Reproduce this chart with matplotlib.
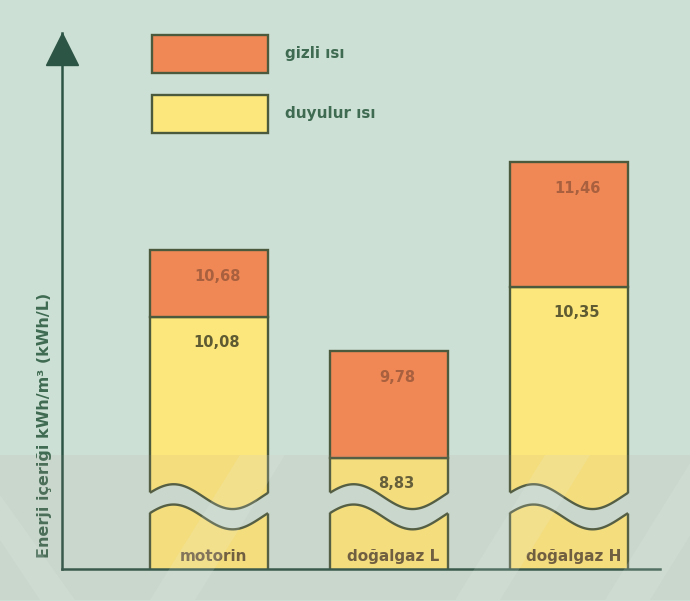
import matplotlib
matplotlib.use('Agg')
import matplotlib.pyplot as plt
import numpy as np
from matplotlib.patches import Polygon

# ---- data ----
categories = ['motorin', 'doğalgaz L', 'doğalgaz H']
duyulur = [10.08, 8.83, 10.35]          # duyulur ısı (lower value)
toplam = [10.68, 9.78, 11.46]           # gizli ısı dahil (upper value)
duyulur_labels = ['10,08', '8,83', '10,35']
toplam_labels = ['10,68', '9,78', '11,46']
legend_labels = ['gizli ısı', 'duyulur ısı']
ylabel = 'Enerji içeriği kWh/m³ (kWh/L)'

# ---- style ----
BG = '#cde0d5'
YEL = '#fce77c'
ORA = '#f08856'
EDGE = '#4b5a3c'
AXC = '#2d5546'
TXT_G = '#3f6b52'
TXT_Y = '#5e5a32'
TXT_O = '#a8603e'
TXT_C = '#6a5b3a'
plt.rcParams['font.family'] = ['DejaVu Sans']
plt.rcParams['font.weight'] = 'bold'

W, H = 690, 601
fig = plt.figure(figsize=(W / 100, H / 100), dpi=100, facecolor=BG)
ax = fig.add_axes([62 / W, 32 / H, 598 / W, 536 / H])
ax.set_facecolor(BG)
ax.set_xlim(-0.8167, 2.5056)
ax.set_ylim(7.848, 12.604)

x = np.arange(len(categories))
w = 0.656
lo_vals = np.array(duyulur)
hi_vals = np.array(toplam)

b_y = ax.bar(x, lo_vals, w, color=YEL, edgecolor=EDGE, linewidth=1.7, zorder=2)
b_o = ax.bar(x, hi_vals - lo_vals, w, bottom=lo_vals, color=ORA, edgecolor=EDGE,
             linewidth=1.7, zorder=3)

# axis break (wavy gap)
U, A, G = 8.49, 0.11, 0.18
t = np.linspace(0, 1, 120)
for xi in x:
    xs = xi - w / 2 + t * w
    up = U + A * np.sin(2 * np.pi * (t + 0.05))
    dn = up - G
    xs_ext = xs.copy()
    xs_ext[0] -= 0.03
    xs_ext[-1] += 0.03
    poly = np.column_stack([np.r_[xs_ext, xs_ext[::-1]], np.r_[up, dn[::-1]]])
    ax.add_patch(Polygon(poly, closed=True, facecolor=BG, edgecolor='none', zorder=4))
    ax.plot(xs, up, color=EDGE, lw=1.7, zorder=5, solid_capstyle='butt')
    ax.plot(xs, dn, color=EDGE, lw=1.7, zorder=5, solid_capstyle='butt')

# value labels
for xi, v, s in zip(x, hi_vals, toplam_labels):
    ax.annotate(s, (xi + 0.045, v), xytext=(0, -19), textcoords='offset points',
                ha='center', va='center', fontsize=10.5, fontweight='bold',
                color=TXT_O, zorder=6)
for xi, v, s in zip(x, lo_vals, duyulur_labels):
    ax.annotate(s, (xi + 0.04, v), xytext=(0, -18), textcoords='offset points',
                ha='center', va='center', fontsize=10.5, fontweight='bold',
                color=TXT_Y, zorder=6)

# category labels inside bar stubs
for xi, c in zip(x, categories):
    ax.text(xi + 0.025, 0.024, c, transform=ax.get_xaxis_transform(),
            ha='center', va='center', fontsize=11, fontweight='bold',
            color=TXT_C, zorder=6)

# axes styling
for s in ['top', 'right']:
    ax.spines[s].set_visible(False)
for s in ['left', 'bottom']:
    ax.spines[s].set_color(AXC)
    ax.spines[s].set_linewidth(1.8)
    ax.spines[s].set_zorder(7)
ax.set_xticks([])
ax.set_yticks([])
ax.plot([0], [(569 - 49) / 536], marker='^', ms=23, color=AXC,
        transform=ax.transAxes, clip_on=False, zorder=8)

# legend
leg = ax.legend([b_o, b_y], legend_labels, loc='upper left',
                bbox_to_anchor=(152 / W, 1 - 35 / H), bbox_transform=fig.transFigure,
                frameon=False, borderpad=0, borderaxespad=0,
                handlelength=116 / (11 * 100 / 72), handleheight=3.45, handletextpad=1.1,
                labelspacing=1.44, labelcolor=TXT_G, prop={'weight': 'bold', 'size': 11})

fig.text(45 / W, 1 - 425 / H, ylabel, rotation=90, ha='center', va='center',
         fontsize=11.5, fontweight='bold', color=TXT_G)

# faint background watermark band (decoration)
def fpoly(pts, **kw):
    p = Polygon([(px / W, 1 - py / H) for px, py in pts], closed=True,
                transform=fig.transFigure, edgecolor='none', **kw)
    fig.add_artist(p)

fpoly([(0, 455), (W, 455), (W, 600), (0, 600)], facecolor='#b48c8c', alpha=0.10, zorder=20)
for bx in [150, 455, 605]:
    fpoly([(bx, 600), (bx + 45, 600), (bx + 45 + 90, 455), (bx + 90, 455)],
          facecolor='#e8f2ec', alpha=0.15, zorder=21)
fpoly([(0, 495), (0, 540), (40, 600), (75, 600)], facecolor='#e8f2ec', alpha=0.15, zorder=21)

fig.savefig('out.png', dpi=100, facecolor=BG)
